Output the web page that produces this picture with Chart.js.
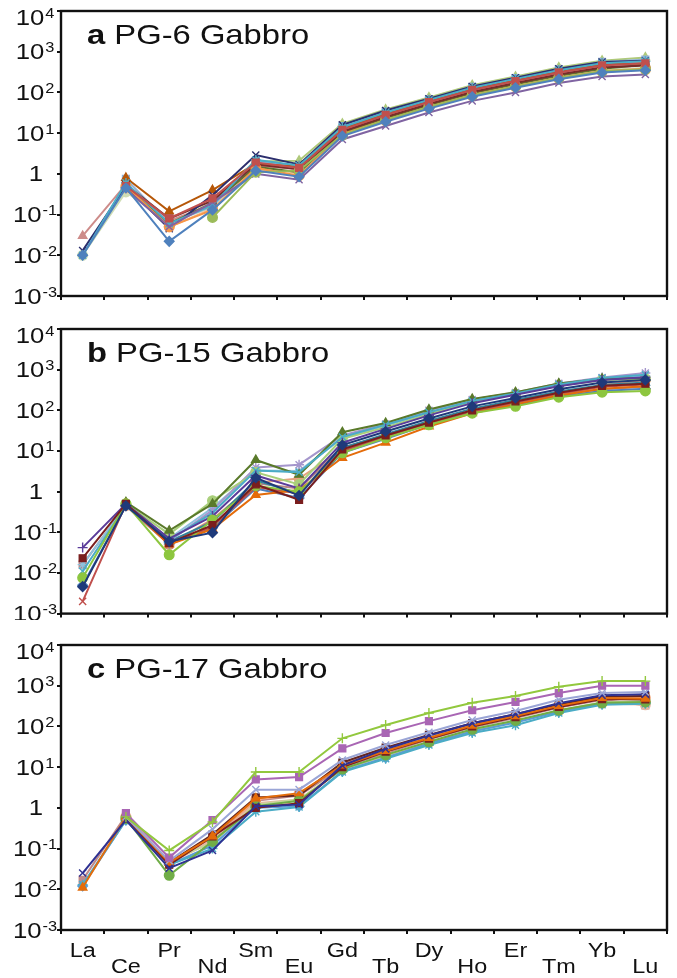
<!DOCTYPE html>
<html>
<head>
<meta charset="utf-8">
<script src="https://cdn.jsdelivr.net/npm/chart.js@4.4.1/dist/chart.umd.min.js"></script>
<style>
  body { margin: 0; background: #fff; }
  #wrap { position: relative; width: 677px; height: 978px; background: #fff; }
  canvas { position: absolute; left: 0; }
</style>
</head>
<body>
<div id="wrap">
  <canvas id="pg6" width="677" height="310" style="top:0px"></canvas>
  <canvas id="pg15" width="677" height="310" style="top:310px"></canvas>
  <canvas id="pg17" width="677" height="358" style="top:620px"></canvas>
</div>
<script>
// chondrite-normalised REE, one row per sample
const elements = ['La', 'Ce', 'Pr', 'Nd', 'Sm', 'Eu', 'Gd', 'Tb', 'Dy', 'Ho', 'Er', 'Tm', 'Yb', 'Lu'];
const decades = [-3, -2, -1, 0, 1, 2, 3, 4];

const pg6 = [
  [0.010, 0.45, 0.022, 0.13, 1.2, 0.85, 8.5, 19, 40, 78, 130, 210, 310, 350],
  [null, 0.50, 0.080, 0.25, 1.9, 1.4, 12, 28, 58, 115, 190, 310, 460, 520],
  [null, null, null, 0.085, 1.1, 1.2, 9, 21, 44, 85, 140, 225, 330, 370],
  [null, 0.42, 0.050, 0.20, 1.0, 0.72, 7, 15, 32, 62, 100, 170, 245, 275],
  [0.010, 0.60, 0.060, 0.17, 2.2, 1.6, 14, 32, 65, 130, 215, 350, 520, 580],
  [null, 0.50, 0.050, 0.13, 1.4, 0.9, 9.5, 21, 44, 86, 142, 228, 335, 380],
  [0.013, 0.50, 0.045, 0.30, 2.9, 1.7, 16, 36, 70, 140, 230, 380, 560, 600],
  [null, 0.55, 0.080, 0.22, 1.7, 1.3, 11, 25, 52, 102, 170, 275, 410, 460],
  [null, 0.45, 0.060, 0.19, 1.5, 1.1, 10, 23, 48, 95, 158, 255, 380, 480],
  [null, 0.80, 0.120, 0.40, 1.8, 1.5, 13, 30, 62, 122, 200, 330, 490, 520],
  [null, 0.75, 0.060, 0.16, 2.0, 1.6, 15, 34, 68, 138, 225, 370, 560, 640],
  [0.030, 0.55, 0.070, 0.18, 1.6, 1.3, 11, 26, 54, 108, 180, 290, 430, 480],
  [null, 0.50, 0.060, 0.20, 2.0, 2.1, 17, 38, 75, 150, 245, 410, 600, 720],
  [null, 0.45, 0.050, 0.14, 1.3, 1.1, 9, 20, 42, 82, 135, 220, 320, 360],
  [0.010, 0.36, 0.065, 0.15, 1.6, 1.0, 10, 23, 47, 91, 151, 240, 355, 400]
];
const pg6Colors = ['#4F81BD', '#C0504D', '#9BBB59', '#8064A2', '#4BACC6', '#F79646', '#2C2F6E', '#772C2A',
  '#5F7530', '#B65708', '#93B3D8', '#CD8C8A', '#AFC97A', '#F5B886', '#CFDDB5'];
const pg6Marks = ['rectRot', 'rect', 'circle', 'crossRot', 'star', 'circle', 'crossRot', 'rect',
  'triangle', 'triangle', 'rect', 'triangle', 'triangle', 'circle', 'circle'];

const pg15 = [
  [0.0046, 0.45, 0.060, 0.098, 2.2, 0.8, 14, 30, 63, 125, 200, 330, 480, 560],
  [0.023, 0.50, 0.055, 0.15, 1.5, 0.63, 11, 24, 50, 100, 165, 270, 400, 450],
  [0.0076, 0.50, 0.028, 0.20, 1.4, 1.0, 9, 21, 44, 85, 125, 210, 280, 300],
  [0.042, 0.50, 0.070, 0.25, 2.5, 1.2, 16, 35, 75, 150, 240, 390, 560, 650],
  [0.011, 0.45, 0.065, 0.30, 3.3, 3.0, 22, 44, 90, 170, 260, 430, 620, 750],
  [null, 0.50, 0.050, 0.12, 0.83, 1.1, 6.8, 16, 40, 85, 140, 230, 340, 390],
  [0.002, 0.50, 0.050, 0.14, 1.3, 0.9, 10, 22, 48, 95, 155, 255, 380, 430],
  [null, 0.55, 0.110, 0.50, 6.0, 2.6, 29, 49, 105, 190, 280, 460, 600, 620],
  [null, 0.50, 0.090, 0.60, 3.0, 1.5, 20, 38, 80, 160, 250, 400, 550, 600],
  [null, 0.50, 0.060, 0.35, 3.9, 4.6, 24, 46, 100, 185, 275, 460, 640, 830],
  [0.016, 0.45, 0.070, 0.40, 3.3, 3.2, 21, 42, 88, 170, 265, 440, 610, 700],
  [0.005, 0.45, 0.055, 0.13, 1.2, 0.7, 9, 20, 45, 88, 135, 220, 300, 340],
  [null, 0.50, 0.060, 0.18, 1.9, 0.9, 12, 26, 55, 110, 180, 290, 420, 480],
  [0.016, 0.45, 0.050, 0.20, 1.6, 1.2, 12, 24, 50, 95, 150, 250, 330, 380],
  [null, 0.45, 0.050, 0.21, 1.65, 2.1, 10.7, 22, 49, 91, 140, 240, 420, 560]
];
const pg15Colors = ['#1F3A7A', '#7A1E1E', '#8DC63F', '#5B3C9A', '#4BACC6', '#E46C0A', '#C0504D', '#5A7A2A',
  '#A9CF7A', '#A596CC', '#8FC1DC', '#4F81BD', '#31859C', '#B88485', '#E7A27E'];
const pg15Marks = ['rectRot', 'rect', 'circle', 'cross', 'crossRot', 'triangle', 'crossRot', 'triangle',
  'circle', 'star', 'star', 'rectRot', 'triangle', 'rect', 'circle'];

const pg17 = [
  [null, 0.60, 0.090, 0.45, 7.6, 7.6, 51, 108, 214, 380, 560, 940, 1300, 1300],
  [null, 0.74, 0.060, 0.50, 5.0, 5.7, 29, 69, 135, 250, 400, 660, 1000, 1000],
  [null, 0.60, 0.050, 0.30, 2.8, 2.8, 15, 35, 72, 144, 240, 450, 660, 700],
  [0.025, 0.50, 0.033, 0.09, 1.1, 1.2, 11, 28, 60, 120, 200, 370, 580, 620],
  [0.011, 0.60, 0.045, 0.20, 1.7, 2.3, 11, 25, 52, 105, 180, 320, 500, 480],
  [null, 0.55, 0.040, 0.20, 1.0, 1.3, 10, 24, 50, 100, 170, 300, 470, 460],
  [null, 0.55, 0.022, 0.15, 1.1, 1.5, 9, 20, 42, 85, 140, 250, 380, 400],
  [0.013, 0.50, 0.040, 0.10, 0.8, 1.05, 7.6, 16, 35, 69, 107, 214, 340, 360],
  [0.012, 0.50, 0.040, 0.12, 1.0, 1.1, 8, 17, 38, 75, 125, 230, 360, 380],
  [null, 0.55, 0.045, 0.22, 1.8, 2.0, 13, 30, 62, 120, 200, 350, 540, 560],
  [null, 0.50, 0.050, 0.14, 1.2, 1.6, 9, 19, 40, 78, 130, 245, 390, 420],
  [null, 0.60, 0.050, 0.16, 1.3, 1.6, 9, 19, 40, 80, 130, 240, 370, 340],
  [null, 0.60, 0.045, 0.15, 1.6, 2.2, 12, 26, 55, 110, 185, 330, 520, 500],
  [0.017, 0.65, 0.045, 0.18, 1.5, 2.0, 10, 22, 48, 95, 160, 290, 450, 330]
];
const pg17Colors = ['#92C83E', '#A966B4', '#9AA5D6', '#2E3192', '#E46C0A', '#7A1E1E', '#70AD47', '#4BACC6',
  '#5B9BD5', '#632523', '#C4D79B', '#E6B8A2', '#F4A97E', '#C08A8A'];
const pg17Marks = ['cross', 'rect', 'crossRot', 'crossRot', 'triangle', 'rect', 'circle', 'star',
  'rectRot', 'rect', 'triangle', 'circle', 'circle', 'rect'];

const SX = 1.17;
const FONT = '"Liberation Sans", Arial, sans-serif';

// draw text squeezed wider, like the rest of the figure
function wideText(ctx, text, x, y, font, align) {
  ctx.save();
  ctx.font = font;
  const w = ctx.measureText(text).width * SX;
  const x0 = align === 'center' ? x - w / 2 : x;
  ctx.translate(x0, y);
  ctx.scale(SX, 1);
  ctx.textAlign = 'left';
  ctx.textBaseline = 'alphabetic';
  ctx.fillStyle = '#111';
  ctx.fillText(text, 0, 0);
  ctx.restore();
  return w;
}

const panelDecor = {
  id: 'panelDecor',
  afterDraw(chart, args, opts) {
    const ctx = chart.ctx;
    const area = chart.chartArea;
    const y = chart.scales.y;
    const x = chart.scales.x;

    // frame
    ctx.save();
    ctx.strokeStyle = '#111';
    ctx.lineWidth = 2.4;
    ctx.strokeRect(area.left, area.top, area.right - area.left, area.bottom - area.top);
    ctx.restore();

    // log axis labels 10^n
    decades.forEach(e => {
      const py = y.getPixelForValue(Math.pow(10, e));
      const base = py + (e === 4 ? 14 : 7.5);
      if (e === 0) {
        wideText(ctx, '1', 36, base, '22px ' + FONT, 'center');
        return;
      }
      ctx.font = '22px ' + FONT;
      const w1 = ctx.measureText('10').width * SX;
      ctx.font = '14px ' + FONT;
      const w2 = ctx.measureText(String(e)).width * SX;
      const start = 35 - (w1 + w2 + 1) / 2;
      wideText(ctx, '10', start, base, '22px ' + FONT, 'left');
      wideText(ctx, String(e), start + w1 + 1, base - 7, '14px ' + FONT, 'left');
    });

    // panel title
    const tb = area.top + 33;
    const w = wideText(ctx, opts.letter, 87, tb, 'bold 28px ' + FONT, 'left');
    wideText(ctx, ' ' + opts.name, 87 + w, tb, '28px ' + FONT, 'left');

    // staggered element names under the last panel
    if (opts.names) {
      elements.forEach((el, i) => {
        const px = x.getPixelForValue(i);
        const by = i % 2 === 0 ? area.bottom + 27 : area.bottom + 43;
        wideText(ctx, el, px, by, '20px ' + FONT, 'center');
      });
    }
  }
};

function buildSets(rows, colors, marks) {
  return rows.map((r, i) => ({
    data: r,
    borderColor: colors[i],
    backgroundColor: colors[i],
    pointStyle: marks[i],
    pointRadius: marks[i].indexOf('cross') === 0 || marks[i] === 'star' ? 5 : 4.8,
    pointBorderWidth: 1.4,
    borderWidth: 2
  }));
}

function makePanel(id, rows, colors, marks, letter, name, top, bottomH, names) {
  return new Chart(document.getElementById(id).getContext('2d'), {
    type: 'line',
    data: { labels: elements, datasets: buildSets(rows, colors, marks) },
    options: {
      responsive: false,
      animation: false,
      devicePixelRatio: 1,
      layout: { padding: { top: top, right: 10, left: 0, bottom: 0 } },
      plugins: {
        legend: { display: false },
        tooltip: { enabled: false },
        panelDecor: { letter: letter, name: name, names: names }
      },
      scales: {
        x: {
          type: 'category',
          offset: true,
          border: { display: false },
          grid: { offset: true, drawOnChartArea: false, drawTicks: true, tickLength: 4, color: '#111', lineWidth: 2 },
          ticks: { display: false },
          afterFit: s => { s.height = bottomH; }
        },
        y: {
          type: 'logarithmic',
          min: 0.001,
          max: 10000,
          border: { display: false },
          grid: { drawOnChartArea: false, drawTicks: true, tickLength: 4, color: '#111', lineWidth: 2 },
          ticks: { display: false },
          afterBuildTicks: s => { s.ticks = decades.map(e => ({ value: Math.pow(10, e) })); },
          afterFit: s => { s.width = 61; }
        }
      }
    },
    plugins: [panelDecor]
  });
}

makePanel('pg6', pg6, pg6Colors, pg6Marks, 'a', 'PG-6 Gabbro', 11, 14, false);
makePanel('pg15', pg15, pg15Colors, pg15Marks, 'b', 'PG-15 Gabbro', 19, 6, false);
makePanel('pg17', pg17, pg17Colors, pg17Marks, 'c', 'PG-17 Gabbro', 25, 48, true);
</script>
</body>
</html>
